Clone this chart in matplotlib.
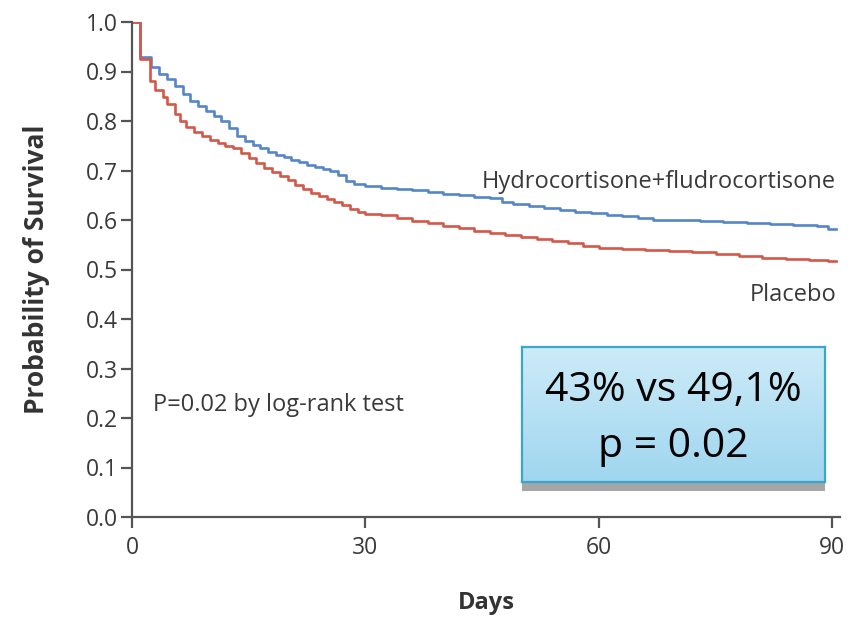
import numpy as np
import matplotlib
matplotlib.use("Agg")
import matplotlib.pyplot as plt
from matplotlib.patches import Rectangle
from matplotlib.colors import LinearSegmentedColormap

# ---- data ----
hydro_days = [0, 1, 2.5, 3.5, 4.5, 5.5, 6.5, 7.5, 8.5, 9.5, 10.5, 11.5, 12.5, 13.5, 14.5,
              15.5, 16.5, 17.5, 18.5, 19.5, 20.5, 21.5, 22.5, 23.5, 24.5, 25.5, 26.5, 27.5,
              28.5, 30, 32, 34, 36, 38, 40, 42, 44, 46, 47.5, 49, 51, 53, 55, 57, 59, 61,
              63, 65, 67, 70, 73, 76, 79, 82, 85, 88, 89.5]
hydro_surv = [1.0, 0.93, 0.91, 0.895, 0.885, 0.87, 0.855, 0.84, 0.83, 0.82, 0.81, 0.80,
              0.785, 0.77, 0.76, 0.752, 0.745, 0.738, 0.732, 0.727, 0.722, 0.717, 0.712,
              0.708, 0.704, 0.70, 0.69, 0.678, 0.672, 0.668, 0.665, 0.662, 0.66, 0.657,
              0.653, 0.65, 0.647, 0.644, 0.636, 0.632, 0.628, 0.624, 0.62, 0.617, 0.614,
              0.611, 0.608, 0.605, 0.601, 0.599, 0.597, 0.595, 0.593, 0.591, 0.589, 0.587,
              0.582]

placebo_days = [0, 1, 2.3, 3, 4, 4.5, 5.5, 6.2, 7, 8, 9, 10, 11, 12, 13, 14, 15, 16, 17,
                18, 19, 20, 21, 22, 23, 24, 25, 26, 27, 28, 29, 30, 32, 34, 36, 38, 40, 42,
                44, 46, 48, 50, 52, 54, 56, 58, 60, 63, 66, 69, 72, 75, 78, 81, 84, 87, 89.5]
placebo_surv = [1.0, 0.925, 0.88, 0.862, 0.848, 0.835, 0.815, 0.80, 0.788, 0.778, 0.77,
                0.762, 0.755, 0.75, 0.745, 0.735, 0.725, 0.715, 0.705, 0.697, 0.688, 0.68,
                0.67, 0.662, 0.655, 0.648, 0.642, 0.636, 0.63, 0.622, 0.617, 0.613, 0.61,
                0.604, 0.598, 0.593, 0.588, 0.583, 0.578, 0.574, 0.57, 0.566, 0.562, 0.558,
                0.553, 0.548, 0.544, 0.541, 0.539, 0.537, 0.535, 0.532, 0.528, 0.524,
                0.521, 0.519, 0.517]

x_ticks = [0, 30, 60, 90]
y_ticks = [0.0, 0.1, 0.2, 0.3, 0.4, 0.5, 0.6, 0.7, 0.8, 0.9, 1.0]
label_hydro = "Hydrocortisone+fludrocortisone"
label_placebo = "Placebo"
p_text = "P=0.02 by log-rank test"
box_text = "43% vs 49,1%\np = 0.02"

# ---- figure ----
plt.rcParams['font.family'] = ['Open Sans', 'DejaVu Sans']
W, H = 858, 621
fig = plt.figure(figsize=(W / 100, H / 100), dpi=100)
fig.patch.set_facecolor('white')

ax = fig.add_axes([132 / W, 1 - 517 / H, 708 / W, 495 / H])
blue = '#5586c8'
red = '#d4584a'
ax.step(hydro_days + [90.5], hydro_surv + [hydro_surv[-1]], where='post', color=blue, lw=1.9)
ax.step(placebo_days + [90.5], placebo_surv + [placebo_surv[-1]], where='post', color=red, lw=1.9)

ax.set_xlim(0, 91)
ax.set_ylim(0, 1.0)
ax.set_xticks(x_ticks)
ax.set_yticks(y_ticks)
ax.set_yticklabels([f"{v:.1f}" for v in y_ticks])
axis_col = '#555555'
for s in ['top', 'right']:
    ax.spines[s].set_visible(False)
for s in ['left', 'bottom']:
    ax.spines[s].set_color(axis_col)
    ax.spines[s].set_linewidth(1.6)
ax.tick_params(axis='both', direction='out', length=8, width=1.6, color=axis_col,
               labelsize=16.5, labelcolor='#3a3a3a', pad=2)
ax.tick_params(axis='x', pad=6)
ax.patch.set_alpha(0)

ax.set_xlabel("Days", fontsize=17, fontweight='bold', color='#333333', labelpad=22)
ax.set_ylabel("Probability of Survival", fontsize=19, fontweight='bold', color='#333333',
              labelpad=26)

ax.text(90.5, 0.677, label_hydro, ha='right', va='center', fontsize=17, color='#3a3a3a')
ax.text(90.5, 0.448, label_placebo, ha='right', va='center', fontsize=17, color='#3a3a3a')
ax.text(2.7, 0.226, p_text, ha='left', va='center', fontsize=17, color='#3a3a3a')

# ---- highlighted box with shadow ----
bx0, bx1, by0, by1 = 522, 825, 347, 482
shadow = Rectangle((bx0 / W, 1 - 491 / H), (bx1 - bx0) / W, 12 / H,
                   transform=fig.transFigure, facecolor='#a6a6a6', edgecolor='none', zorder=5)
fig.patches.append(shadow)
bax = fig.add_axes([bx0 / W, 1 - by1 / H, (bx1 - bx0) / W, (by1 - by0) / H], zorder=6)
grad = np.linspace(0, 1, 256).reshape(-1, 1)
cmap = LinearSegmentedColormap.from_list('g', ['#cdebf8', '#9fd6ef'])
bax.imshow(grad, aspect='auto', cmap=cmap, extent=[0, 1, 0, 1], origin='upper')
bax.set_xlim(0, 1)
bax.set_ylim(0, 1)
bax.set_xticks([])
bax.set_yticks([])
for s in bax.spines.values():
    s.set_color('#3aa6cc')
    s.set_linewidth(1.6)
bax.text(0.5, 0.47, box_text, ha='center', va='center', fontsize=29.5, color='black',
         linespacing=1.5)

fig.savefig("out.png", dpi=100, facecolor='white')
